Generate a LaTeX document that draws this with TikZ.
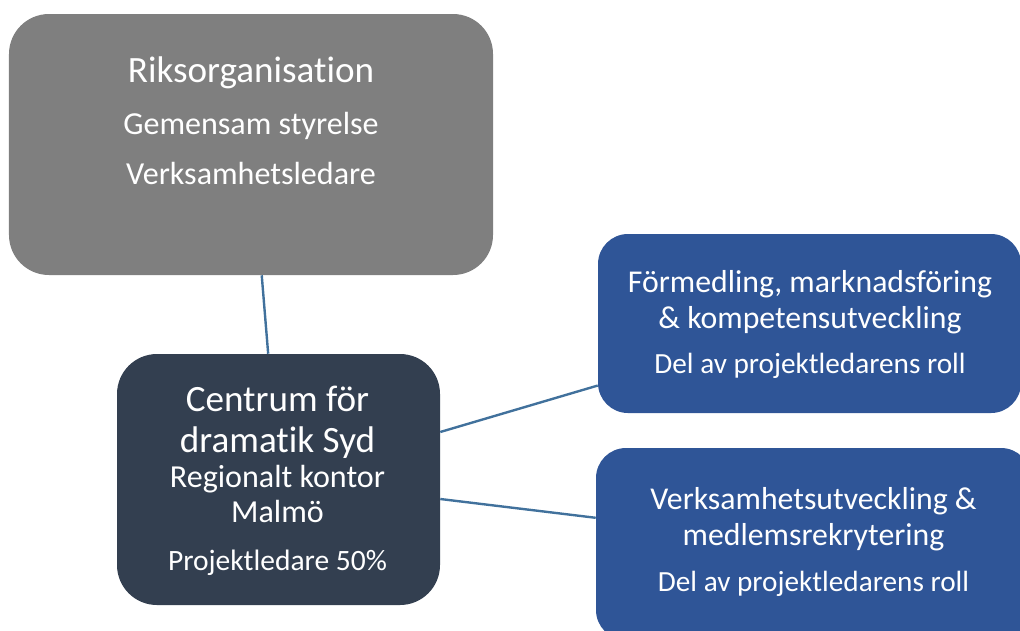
\documentclass[tikz,border=0pt]{standalone}
\usepackage{fontspec}
\setmainfont{Carlito}[Ligatures={NoCommon,NoContextual}]
\usepackage{xcolor}
\usepackage{tikz}
\usetikzlibrary{positioning}

\definecolor{riksgray}{HTML}{7F7F7F}
\definecolor{sydnavy}{HTML}{333F50}
\definecolor{unitblue}{HTML}{2F5597}
\definecolor{linkblue}{HTML}{41719C}

\begin{document}
\begin{tikzpicture}[
  box/.style={rectangle, rounded corners=1cm, inner sep=0pt},
  unit/.style={box, fill=unitblue, rounded corners=0.75cm},
  boxtext/.style={anchor=base, text=white, align=center, inner sep=0pt},
  link/.style={draw=linkblue, line width=1.7pt}
]
\clip (0,0) rectangle (25.5,-15.75);

% Boxes
\node[box, fill=riksgray, minimum width=12.1cm, minimum height=6.525cm] (riks) at (6.275,-3.6125) {};
\node[box, fill=sydnavy, minimum width=8.075cm, minimum height=6.275cm] (syd) at (6.9625,-11.9875) {};
\node[unit, minimum width=10.575cm, minimum height=4.475cm] (formed) at (20.2375,-8.0875) {};
\node[unit, minimum width=10.875cm, minimum height=4.8cm] (verks) at (20.3375,-13.6) {};

% Links
\draw[link] (riks) -- (syd);
\draw[link] (syd) -- (formed);
\draw[link] (syd) -- (verks);

% Texts (anchored at the baseline of the last line)
\node[boxtext, font=\fontsize{22.8}{35}\selectfont] (rikstext) at (6.275,-4.6) {
  {\fontsize{26.4}{30}\selectfont Riksorganisation}\\[2pt]
  Gemensam styrelse\\
  Verksamhetsledare
};
\node[boxtext, font=\fontsize{22.8}{25}\selectfont] (sydtext) at (6.9375,-14.25) {
  {\fontsize{26.4}{30}\selectfont Centrum för}\\[4.2pt]
  {\fontsize{26.4}{30}\selectfont dramatik Syd}\\
  Regionalt kontor\\
  Malmö\\[8.5pt]
  {\fontsize{21}{25}\selectfont Projektledare 50\%}
};
\node[boxtext, font=\fontsize{22.6}{25.6}\selectfont] (formedtext) at (20.25,-9.325) {
  Förmedling, marknadsföring\\
  \& kompetensutveckling\\[6.4pt]
  {\fontsize{20.8}{25}\selectfont Del av projektledarens roll}
};
\node[boxtext, font=\fontsize{22.6}{25}\selectfont] (verkstext) at (20.3375,-14.775) {
  Verksamhetsutveckling \&\\
  medlemsrekrytering\\[7.7pt]
  {\fontsize{20.8}{25}\selectfont Del av projektledarens roll}
};

\end{tikzpicture}
\end{document}
